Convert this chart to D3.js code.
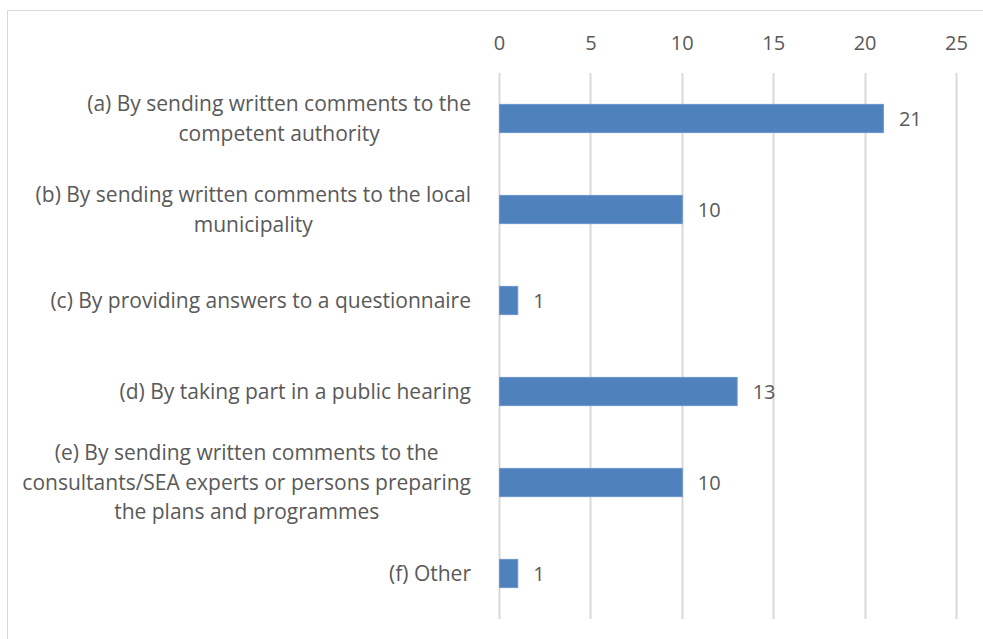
<!DOCTYPE html>
<html>
<head>
<meta charset="utf-8">
<script src="https://cdn.jsdelivr.net/npm/d3@7"></script>
<style>
  html, body { margin: 0; padding: 0; background: #fff; }
  svg { display: block; }
  text { font-family: "Open Sans", Lato, sans-serif; fill: #595959; }
</style>
</head>
<body>
<svg id="chart" width="983" height="639"></svg>
<script>
// Ways the public took part (number of responses)
const categories = [
  ["(a) By sending written comments to the", "competent authority"],
  ["(b) By sending written comments to the local", "municipality"],
  ["(c) By providing answers to a questionnaire"],
  ["(d) By taking part in a public hearing"],
  ["(e) By sending written comments to the", "consultants/SEA experts or persons preparing", "the plans and programmes"],
  ["(f) Other"]
];
const values = [21, 10, 1, 13, 10, 1];
const tickValues = [0, 5, 10, 15, 20, 25];

const svg = d3.select("#chart");
const W = 983, H = 639;

// outer chart frame
svg.append("rect")
  .attr("x", 7.5).attr("y", 10.5)
  .attr("width", W + 20).attr("height", H + 20)
  .attr("fill", "#fff").attr("stroke", "#d9d9d9").attr("stroke-width", 1);

const plot = { left: 499, right: 956, top: 73, bottom: 619 };

const x = d3.scaleLinear().domain([0, 25]).range([plot.left, plot.right]);
const y = d3.scaleBand()
  .domain(d3.range(categories.length))
  .range([plot.top, plot.bottom])
  .paddingInner(0.69).paddingOuter(0.345);

// vertical gridlines
svg.append("g")
  .selectAll("line")
  .data(tickValues)
  .join("line")
  .attr("x1", d => Math.round(x(d)) + 0.5)
  .attr("x2", d => Math.round(x(d)) + 0.5)
  .attr("y1", plot.top).attr("y2", plot.bottom)
  .attr("stroke", "#d9d9d9").attr("stroke-width", 2);

// top axis labels
const axis = d3.axisTop(x).tickValues(tickValues).tickSize(0).tickPadding(0);
const gAxis = svg.append("g").attr("transform", `translate(0, 50)`).call(axis);
gAxis.select(".domain").remove();
gAxis.selectAll("text")
  .attr("font-size", 20)
  .attr("fill", "#595959")
  .attr("font-family", "'Open Sans', Lato, sans-serif");

// bars
svg.append("g")
  .selectAll("rect")
  .data(values)
  .join("rect")
  .attr("x", x(0) + 0.5)
  .attr("y", (d, i) => y(i))
  .attr("width", d => x(d) - x(0))
  .attr("height", y.bandwidth())
  .attr("fill", "#4f81bd")
  .attr("stroke", "#6b96cc").attr("stroke-width", 1);

// value labels
svg.append("g")
  .selectAll("text")
  .data(values)
  .join("text")
  .attr("x", d => x(d) + 16)
  .attr("y", (d, i) => y(i) + y.bandwidth() / 2)
  .attr("dy", "0.36em")
  .attr("font-size", 20)
  .text(d => d);

// category labels: wrapped lines centred within a right-aligned block
const labelRight = 471;
const lineH = 29.5;
const gLab = svg.append("g");
categories.forEach((lines, i) => {
  const cy = y(i) + y.bandwidth() / 2;
  const t = gLab.append("text").attr("font-size", 21).attr("text-anchor", "middle");
  const spans = lines.map((ln, k) =>
    t.append("tspan")
      .attr("y", cy + (k - (lines.length - 1) / 2) * lineH)
      .attr("dy", "0.35em")
      .text(ln));
  const widths = spans.map(s => s.node().getComputedTextLength());
  const blockW = d3.max(widths);
  spans.forEach(s => s.attr("x", labelRight - blockW / 2));
});
</script>
</body>
</html>
